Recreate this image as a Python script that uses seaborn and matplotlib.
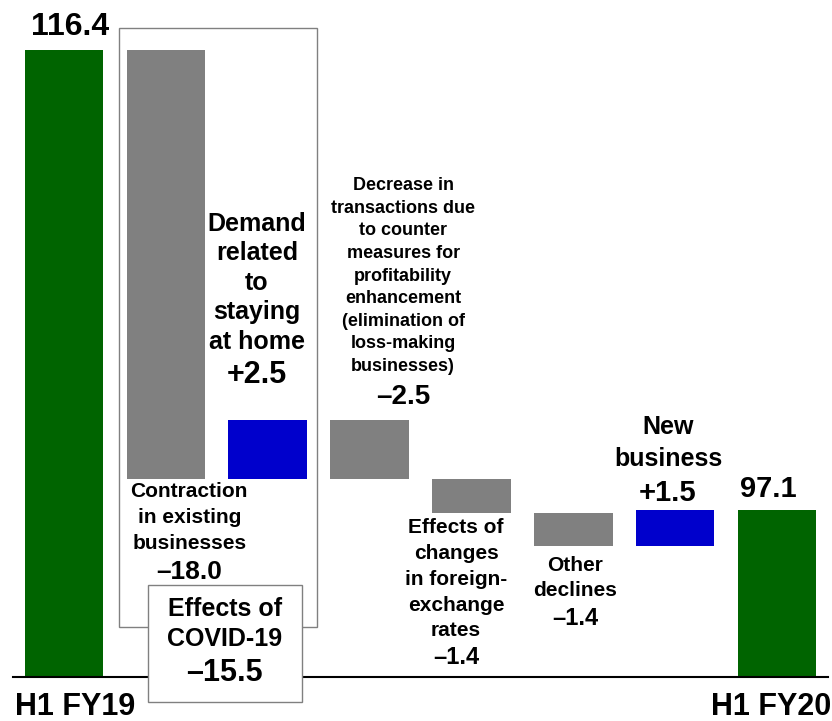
import numpy as np
import pandas as pd
import seaborn as sns
import matplotlib.pyplot as plt
from matplotlib.patches import Rectangle

# waterfall data (billions)
steps = ['H1 FY19', 'Contraction', 'Stay home', 'Counter measures',
         'FX', 'Other', 'New business', 'H1 FY20']
values = [116.4, -18.0, 2.5, -2.5, -1.4, -1.4, 1.5, 97.1]
is_total = [True, False, False, False, False, False, False, True]
covid_effect = -15.5

# build bottoms / heights for the floating bars
bottoms, heights, colors = [], [], []
running = 0.0
for v, tot in zip(values, is_total):
    if tot:
        running = v
        bottoms.append(0.0)
        heights.append(v)
        colors.append('#006400')
    else:
        bottoms.append(min(running, running + v))
        heights.append(abs(v))
        colors.append('#0000CC' if v > 0 else '#808080')
        running += v

df = pd.DataFrame({'step': steps, 'height': heights, 'bottom': bottoms})

sns.set_style('white')
plt.rcParams['font.family'] = ['Liberation Sans', 'DejaVu Sans']
plt.rcParams['font.weight'] = 'bold'
plt.rcParams['text.color'] = 'black'

fig = plt.figure(figsize=(8.32, 7.21), dpi=100)
ax = fig.add_axes([13 / 832, 44 / 721, 815 / 832, 677 / 721])

sns.barplot(data=df, x='step', y='height', bottom=df['bottom'].values, ax=ax,
            color='#808080', width=0.77, linewidth=0, saturation=1, errorbar=None)
for patch, c in zip(ax.patches, colors):
    patch.set_facecolor(c)

ymin = 90.1
ax.set_ylim(ymin, 118.5)
ax.set_xlim(-0.5, 7.5)
ax.set_xticks([])
ax.set_yticks([])
ax.set_xlabel('')
ax.set_ylabel('')
for s in ['top', 'right', 'left']:
    ax.spines[s].set_visible(False)
ax.spines['bottom'].set_color('black')
ax.spines['bottom'].set_linewidth(1.5)

# COVID-19 bracket boxes
ax.add_patch(Rectangle((0.54, 92.2), 1.94, 117.32 - 92.2, fill=False,
                       edgecolor='#808080', linewidth=1, clip_on=False, zorder=1))
ax.add_patch(Rectangle((0.825, 89.05), 1.512, 93.96 - 89.05, facecolor='white',
                       edgecolor='#808080', linewidth=1, clip_on=False, zorder=3))

def label(x, y, s, size, ls=1.2, ha='center'):
    ax.text(x, y, s, ha=ha, va='center', fontsize=size, fontweight='bold',
            color='black', linespacing=ls, clip_on=False, zorder=4)

label(0.06, 117.36, '116.4', 23)
label(1.895, 106.63, 'Demand\nrelated\nto\nstaying\nat home', 18, 1.29)
label(1.895, 102.77, '+2.5', 22)
label(3.33, 106.92, 'Decrease in\ntransactions due\nto counter\nmeasures for\nprofitability\n'
      'enhancement\n(elimination of\nloss-making\nbusinesses)', 13, 1.43)
label(3.33, 101.86, '–2.5', 20)
label(1.23, 96.80, 'Contraction\nin existing\nbusinesses', 15, 1.45)
label(1.23, 94.49, '–18.0', 19)
label(1.58, 92.33, 'Effects of\nCOVID-19', 18, 1.32)
label(1.58, 90.26, '–15.5', 22)
label(3.85, 94.20, 'Effects of\nchanges\nin foreign-\nexchange\nrates', 15, 1.45)
label(3.85, 90.90, '–1.4', 17)
label(5.02, 94.27, 'Other\ndeclines', 15, 1.4)
label(5.02, 92.57, '–1.4', 17)
label(5.93, 99.92, 'New\nbusiness', 18, 1.43)
label(5.93, 97.82, '+1.5', 21)
label(6.91, 97.99, '97.1', 21)
label(-0.48, 88.84, 'H1 FY19', 22, ha='left')
label(7.53, 88.84, 'H1 FY20', 22, ha='right')

fig.savefig('out.png', dpi=100)
